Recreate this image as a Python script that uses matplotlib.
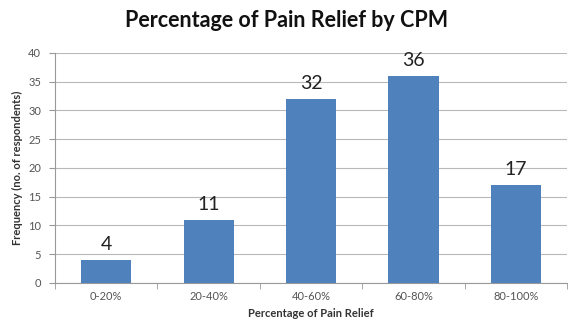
import matplotlib
matplotlib.use("Agg")
import matplotlib.pyplot as plt

categories = ["0-20%", "20-40%", "40-60%", "60-80%", "80-100%"]
counts = [4, 11, 32, 36, 17]

plt.rcParams['font.family'] = ['Lato', 'DejaVu Sans']

fig = plt.figure(figsize=(5.73, 3.29), dpi=100)
ax = fig.add_axes([0.096, 0.14, 0.894, 0.699])

x = range(len(categories))
ax.bar(x, counts, width=0.49, color="#4F81BD", zorder=3)
for i, v in zip(x, counts):
    ax.text(i, v + 1.2, str(v), ha="center", va="bottom", fontsize=14, color="#222222")

ax.set_xlim(-0.5, len(categories) - 0.5)
ax.set_ylim(0, 40)
ax.set_yticks(range(0, 41, 5))
ax.set_xticks(list(x))
ax.set_xticklabels(categories)
# small tick marks between categories, like Excel
ax.set_xticks([i - 0.5 for i in range(len(categories) + 1)], minor=True)
ax.tick_params(axis="x", which="minor", length=4, color="#999999", direction="out")
ax.tick_params(axis="both", which="major", labelsize=8, colors="#555555", length=0, pad=6)
ax.tick_params(axis="y", which="major", length=4, color="#999999")
ax.yaxis.grid(True, color="#b8b8b8", linewidth=0.8, zorder=0)
for s in ["top", "right"]:
    ax.spines[s].set_visible(False)
ax.spines["left"].set_color("#999999")
ax.spines["bottom"].set_color("#999999")

ax.set_xlabel("Percentage of Pain Relief", fontsize=8, fontweight="bold", color="#333333", labelpad=4)
ax.set_ylabel("Frequency (no. of respondents)", fontsize=8, fontweight="bold", color="#333333", labelpad=4)
fig.suptitle("Percentage of Pain Relief by CPM", fontsize=15.5, fontweight="bold", color="#111111", y=0.97)

fig.savefig("out.png", dpi=100)
